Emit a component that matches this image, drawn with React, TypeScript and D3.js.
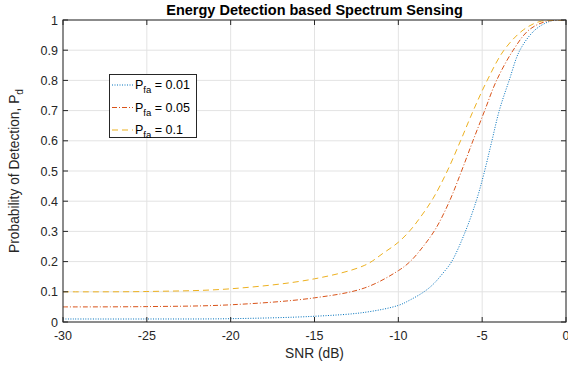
import React from "react";
import * as d3 from "d3";

const snrBlue = [-30, -25, -20, -15, -12, -10, -9.3, -8.47, -7.92, -7.32, -6.82, -6, -5.33, -4.9, -4.44, -3.98, -3.39, -2.75, -1.85, -1, -0.5, 0];
const pdBlue = [0.01, 0.01, 0.011, 0.019, 0.032, 0.055, 0.073, 0.1, 0.125, 0.163, 0.2, 0.3, 0.405, 0.49, 0.595, 0.7, 0.8, 0.9, 0.967, 0.995, 1.0, 1.0];

const snrRed = [-30, -25, -20, -15, -12, -10, -9.3, -8.52, -7.76, -6.95, -6.23, -5.55, -4.85, -4.14, -3.15, -2.21, -1.2, 0];
const pdRed = [0.05, 0.051, 0.057, 0.08, 0.113, 0.17, 0.2, 0.25, 0.31, 0.4, 0.5, 0.6, 0.7, 0.8, 0.9, 0.967, 0.995, 1.0];

const snrYellow = [-30, -25, -20, -15, -12, -10.9, -10, -9.3, -8.71, -7.92, -7.08, -6.29, -5.53, -4.7, -3.7, -2.55, -1.55, 0];
const pdYellow = [0.1, 0.101, 0.11, 0.143, 0.188, 0.228, 0.264, 0.303, 0.345, 0.41, 0.5, 0.6, 0.7, 0.8, 0.9, 0.967, 0.995, 1.0];

const seriesLabels = ["0.01", "0.05", "0.1"];
const xTicks = [-30, -25, -20, -15, -10, -5, 0];
const yTicks = [0, 0.1, 0.2, 0.3, 0.4, 0.5, 0.6, 0.7, 0.8, 0.9, 1];

const W = 568;
const H = 369;
const L = 63;
const R = 566;
const T = 20;
const B = 322;
const FONT = "'Liberation Sans', Arial, Helvetica, sans-serif";
const AX = "#262626";
const GRID = "#e3e3e3";

export default function App() {
  const x = d3.scaleLinear().domain([-30, 0]).range([L, R]);
  const y = d3.scaleLinear().domain([0, 1]).range([B, T]);
  const line = d3
    .line<[number, number]>()
    .x((d) => x(d[0]))
    .y((d) => y(Math.min(1, d[1])))
    .curve(d3.curveCatmullRom.alpha(0.5));

  const series = [
    { xs: snrBlue, ys: pdBlue, color: "#0072BD", dash: "1,1.5" },
    { xs: snrRed, ys: pdRed, color: "#D95319", dash: "5,2,1,2" },
    { xs: snrYellow, ys: pdYellow, color: "#EDB120", dash: "6,4" },
  ];

  const tickFs = 12.5;
  const legendX = 109.5;
  const legendY = 74.5;
  const legendW = 87;
  const legendH = 63;
  const legendRows = [85, 107.5, 130];

  return (
    <svg
      width={W}
      height={H}
      style={{ position: "absolute", left: 0, top: 0, background: "#fff" }}
      fontFamily={FONT}
    >
      <defs>
        <clipPath id="plotclip">
          <rect x={L} y={T} width={R - L} height={B - T} />
        </clipPath>
      </defs>
      <rect x={0} y={0} width={W} height={H} fill="#fff" />
      {xTicks.map((t) => (
        <line key={"gx" + t} x1={x(t)} x2={x(t)} y1={T} y2={B} stroke={GRID} strokeWidth={1} />
      ))}
      {yTicks.map((t) => (
        <line key={"gy" + t} x1={L} x2={R} y1={y(t)} y2={y(t)} stroke={GRID} strokeWidth={1} />
      ))}
      <g clipPath="url(#plotclip)">
        {series.map((s, i) => (
          <path
            key={"s" + i}
            d={line(s.xs.map((v, j) => [v, s.ys[j]] as [number, number])) || ""}
            fill="none"
            stroke={s.color}
            strokeWidth={1}
            strokeDasharray={s.dash}
          />
        ))}
      </g>
      <rect x={L} y={T} width={R - L} height={B - T} fill="none" stroke={AX} strokeWidth={1} />
      {xTicks.map((t) => (
        <g key={"tx" + t}>
          <line x1={x(t)} x2={x(t)} y1={B} y2={B - 5} stroke={AX} />
          <line x1={x(t)} x2={x(t)} y1={T} y2={T + 5} stroke={AX} />
          <text x={x(t)} y={B + 18} fontSize={tickFs} textAnchor="middle" fill={AX}>
            {String(t)}
          </text>
        </g>
      ))}
      {yTicks.map((t) => (
        <g key={"ty" + t}>
          <line x1={L} x2={L + 5} y1={y(t)} y2={y(t)} stroke={AX} />
          <line x1={R} x2={R - 5} y1={y(t)} y2={y(t)} stroke={AX} />
          <text x={L - 5} y={y(t) + 4.5} fontSize={tickFs} textAnchor="end" fill={AX}>
            {String(t)}
          </text>
        </g>
      ))}
      <text x={(L + R) / 2} y={15} fontSize={14.5} fontWeight="bold" textAnchor="middle" fill="#000">
        Energy Detection based Spectrum Sensing
      </text>
      <text x={(L + R) / 2} y={358} fontSize={13.75} textAnchor="middle" fill={AX}>
        SNR (dB)
      </text>
      <text
        transform={`translate(19, ${(T + B) / 2}) rotate(-90)`}
        fontSize={13.75}
        textAnchor="middle"
        fill={AX}
      >
        Probability of Detection, P
        <tspan fontSize={10} dy={4}>d</tspan>
      </text>
      <rect x={legendX} y={legendY} width={legendW} height={legendH} fill="#fff" stroke={AX} strokeWidth={1} />
      {series.map((s, i) => (
        <g key={"lg" + i}>
          <line
            x1={112}
            x2={133}
            y1={legendRows[i]}
            y2={legendRows[i]}
            stroke={s.color}
            strokeWidth={1}
            strokeDasharray={s.dash}
          />
          <text x={135} y={legendRows[i] + 4} fontSize={tickFs} fill="#000">
            P
            <tspan fontSize={9.5} dy={4}>fa</tspan>
            <tspan dy={-4}>{" = " + seriesLabels[i]}</tspan>
          </text>
        </g>
      ))}
    </svg>
  );
}
